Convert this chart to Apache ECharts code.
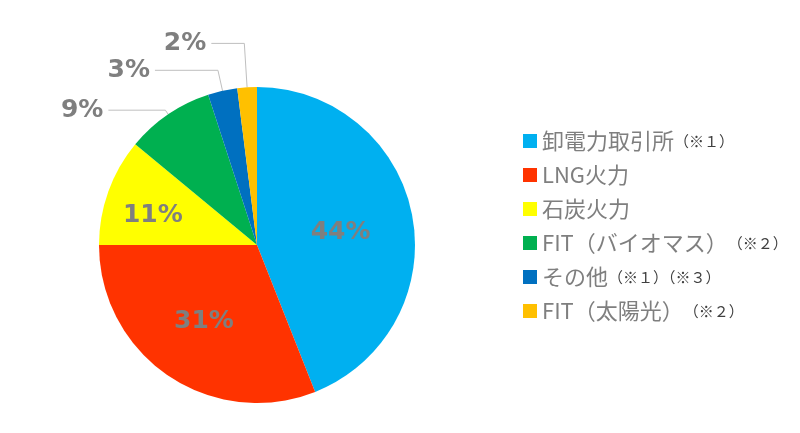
<!DOCTYPE html>
<html>
<head>
<meta charset="utf-8">
<script src="https://cdn.jsdelivr.net/npm/echarts@6/dist/echarts.min.js"></script>
<style>
  html, body { margin: 0; padding: 0; background: #fff; }
  #main { width: 800px; height: 433px; }
</style>
</head>
<body>
<div id="main"></div>
<script>
// 電源構成（割合 %）
var categories = ['卸電力取引所（※１）', 'LNG火力', '石炭火力', 'FIT（バイオマス）（※２）', 'その他（※１）（※３）', 'FIT（太陽光）（※２）'];
var values = [44, 31, 11, 9, 3, 2];
var colors = ['#00B0F0', '#FF3300', '#FFFF00', '#00B050', '#0070C0', '#FFC000'];
// 外側ラベルの引き出し線 [length, length2]、null は内側表示
var leader = [null, null, null, [5, 57], [21, 63], [44, 33]];
// 内側ラベル位置の微調整 [dx, dy]
var nudge = [[3, 3], [-7, 9], [-27, -2], [0, 0], [0, 0], [0, 0]];

var chart = echarts.init(document.getElementById('main'));

var data = values.map(function (v, i) {
  var item = { name: categories[i], value: v, itemStyle: { color: colors[i] } };
  if (leader[i]) {
    item.label = { position: 'outside', padding: [0, 0, 12, 0] };
    item.labelLine = { show: true, length: leader[i][0], length2: leader[i][1] };
  } else {
    item.label = { position: 'inside' };
    item.labelLine = { show: false };
  }
  return item;
});

var option = {
  backgroundColor: '#ffffff',
  animation: false,
  legend: {
    orient: 'vertical',
    left: 518,
    top: 125,
    itemWidth: 14,
    itemHeight: 14,
    itemGap: 12,
    icon: 'rect',
    data: categories,
    formatter: function (name) {
      var k = name.indexOf('（※');
      if (k < 0) return '{a|' + name + '}';
      return '{a|' + name.slice(0, k) + '}{b|' + name.slice(k) + '}';
    },
    textStyle: {
      color: '#7F7F7F',
      rich: {
        a: { fontFamily: 'Noto Sans CJK JP', fontSize: 22, color: '#7F7F7F' },
        b: { fontFamily: 'Noto Sans CJK JP', fontSize: 15, color: '#404040' }
      }
    }
  },
  series: [{
    type: 'pie',
    center: [257, 245],
    radius: 158,
    startAngle: 90,
    clockwise: true,
    avoidLabelOverlap: false,
    label: {
      show: true,
      formatter: '{c}%',
      color: '#7F7F7F',
      fontFamily: 'DejaVu Sans',
      fontWeight: 'bold',
      fontSize: 25
    },
    labelLine: {
      lineStyle: { color: '#BFBFBF', width: 1 }
    },
    labelLayout: function (p) {
      var n = nudge[p.dataIndex];
      return { dx: n[0], dy: n[1] };
    },
    emphasis: { disabled: true },
    data: data
  }]
};
chart.setOption(option);
</script>
</body>
</html>
